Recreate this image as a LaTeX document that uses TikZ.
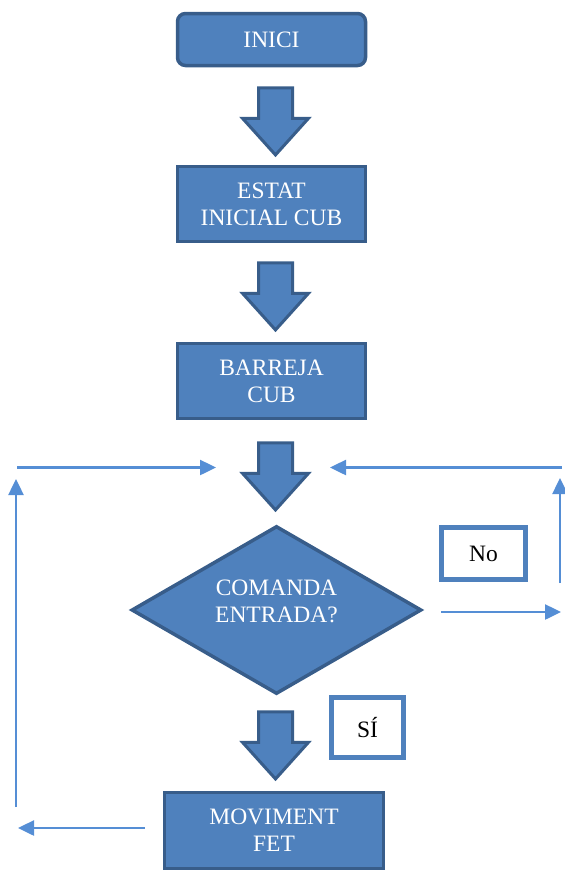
\documentclass[tikz,border=0pt]{standalone}
\usepackage{fontspec}
\setmainfont{Liberation Serif}
\usetikzlibrary{shapes.geometric, shapes.arrows, arrows.meta, positioning}
\definecolor{boxfill}{HTML}{4F81BD}
\definecolor{boxline}{HTML}{385D8A}
\definecolor{flowline}{HTML}{558ED5}

\begin{document}
\begin{tikzpicture}[x=1pt, y=-1pt, >={Triangle[length=16pt, width=15pt]}]
	\tikzstyle{stage} = [draw=boxline, fill=boxfill, line width=3.5pt, text=white, font=\fontsize{23.5}{27}\selectfont, align=center, inner sep=0pt]
	\tikzstyle{down} = [single arrow, draw=boxline, fill=boxfill, line width=3pt, shape border rotate=270, inner sep=15.5pt, minimum height=67pt, single arrow head extend=16pt, single arrow tip angle=84]
	\tikzstyle{answer} = [draw=boxfill, line width=5pt, font=\fontsize{23.5}{27}\selectfont, inner sep=0pt]
	\tikzstyle{flow} = [->, draw=flowline, line width=2.5pt]

	\useasboundingbox (0,0) rectangle (565,873);

	% main column
	\node[stage, rounded corners=8pt, minimum width=188pt, minimum height=52pt] (start) at (271.5,39.5) {INICI};
	\node[stage, minimum width=188pt, minimum height=75pt] (init) at (271.5,204) {ESTAT\\INICIAL CUB};
	\node[stage, minimum width=188pt, minimum height=75pt] (shuffle) at (271.5,381) {BARREJA\\CUB};
	\node[stage, diamond, aspect=1.73, text depth=17pt, minimum width=290pt, minimum height=168pt] (query) at (276.5,610) {COMANDA\\ENTRADA?};
	\node[stage, minimum width=219pt, minimum height=76pt] (move) at (274,830.5) {MOVIMENT\\FET};

	% block arrows
	\node[down] (d1) at (275.5,112) {};
	\node[down] (d2) at (275.5,287) {};
	\node[down] (d3) at (275.5,467) {};
	\node[down] (d4) at (275.5,736) {};

	% answers
	\node[answer, minimum width=84pt, minimum height=52pt] (no) at (483.5,553.5) {No};
	\node[answer, minimum width=72pt, minimum height=60pt] (yes) at (367.5,727.5) {SÍ};

	% loop lines
	\coordinate (lt0) at (17,467.5);
	\coordinate (lt1) at (216,467.5);
	\coordinate (rt0) at (561.5,467.5);
	\coordinate (rt1) at (330,467.5);
	\coordinate (no1) at (561,612);
	\coordinate (ru0) at (560,583);
	\coordinate (ru1) at (560,478);
	\coordinate (lb1) at (18,828);
	\coordinate (lu0) at (16,807);
	\coordinate (lu1) at (16,479);

	\draw[flow] (lt0) -- (lt1);
	\draw[flow] (rt0) -- (rt1);
	\draw[flow, shorten <=18pt] ([yshift=-2pt]query.east) -- (no1);
	\draw[flow] (ru0) -- (ru1);
	\draw[flow, shorten <=18pt] ([yshift=2.5pt]move.west) -- (lb1);
	\draw[flow] (lu0) -- (lu1);
\end{tikzpicture}
\end{document}
